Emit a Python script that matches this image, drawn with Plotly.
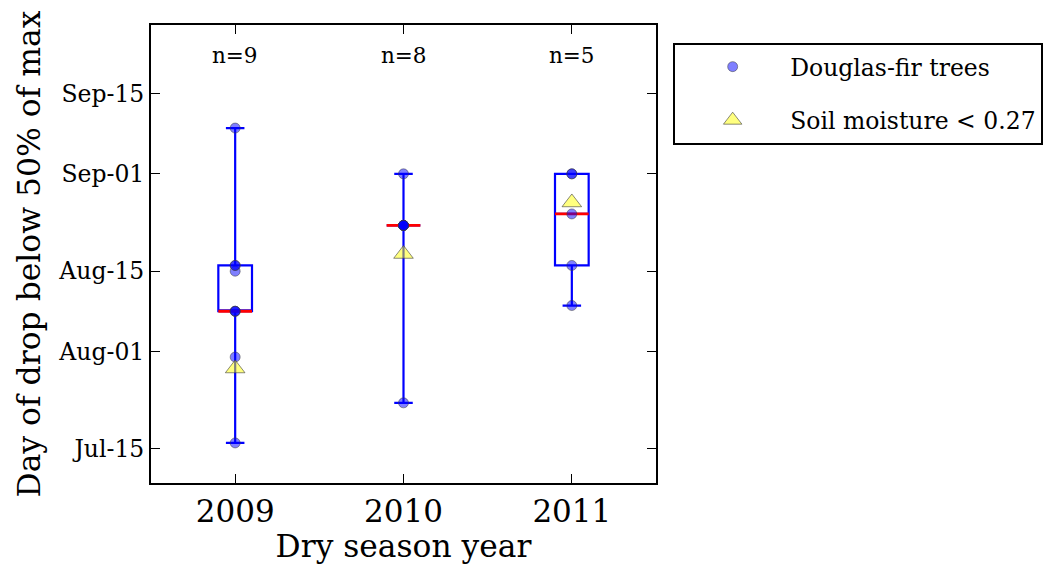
import numpy as np
import plotly.graph_objects as go

# Dry-season years and the day of year (DOY) each tree dropped below 50% of max
years = ["2009", "2010", "2011"]
doy_2009 = [197, 212, 220, 220, 220, 227, 228, 228, 252]
doy_2010 = [204, 235, 235, 235, 235, 235, 235, 244]
doy_2011 = [221, 228, 237, 244, 244]
# Day of year when soil moisture fell below 0.27
soil_doy = [210, 230, 239]

# Date ticks on the DOY axis
tick_doy = [196, 213, 227, 244, 258]
tick_text = ["Jul-15", "Aug-01", "Aug-15", "Sep-01", "Sep-15"]

groups = [doy_2009, doy_2010, doy_2011]
pos = np.arange(1, len(years) + 1)
box_w = 0.2
FONT = "DejaVu Serif"

q1 = [np.percentile(g, 25) for g in groups]
med = [np.percentile(g, 50) for g in groups]
q3 = [np.percentile(g, 75) for g in groups]
lo = [min(g) for g in groups]
hi = [max(g) for g in groups]

fig = go.Figure()

fig.add_trace(go.Box(
    x=pos, q1=q1, median=med, q3=q3, lowerfence=lo, upperfence=hi,
    width=box_w, whiskerwidth=0.55, boxpoints=False,
    line=dict(color="blue", width=2.2), fillcolor="rgba(0,0,0,0)",
    showlegend=False, hoverinfo="skip",
))

# red median bars
mx, my = [], []
for p, m in zip(pos, med):
    mx += [p - box_w / 2, p + box_w / 2, None]
    my += [m, m, None]
fig.add_trace(go.Scatter(x=mx, y=my, mode="lines",
                         line=dict(color="red", width=2.8),
                         showlegend=False, hoverinfo="skip"))

# individual trees
px_, py_ = [], []
for p, g in zip(pos, groups):
    px_ += [p] * len(g)
    py_ += g
fig.add_trace(go.Scatter(
    x=px_, y=py_, mode="markers", name="Douglas-fir trees",
    marker=dict(symbol="circle", size=10, color="rgba(0,0,255,0.5)",
                line=dict(color="rgba(60,60,60,0.5)", width=1)),
    legendgroup="a",
))

fig.add_trace(go.Scatter(
    x=pos, y=soil_doy, mode="markers", name="Soil moisture < 0.27",
    marker=dict(symbol="triangle-up", size=17, color="rgba(255,255,0,0.5)",
                line=dict(color="rgba(60,60,60,0.6)", width=1)),
    legendgroup="b",
))

# sample-size labels
for p, g in zip(pos, groups):
    fig.add_annotation(x=p, y=264.7, text=f"n={len(g)}", showarrow=False,
                       font=dict(family=FONT, size=21.5, color="black"))

axis_common = dict(showline=True, linecolor="black", linewidth=2, mirror="ticks",
                   ticks="inside", ticklen=9, tickwidth=1, tickcolor="black",
                   showgrid=False, zeroline=False)

fig.update_xaxes(range=[0.5, 3.5], tickvals=pos, ticktext=years,
                 tickfont=dict(family=FONT, size=31, color="black"),
                 title=dict(text="Dry season year", standoff=2,
                            font=dict(family=FONT, size=31.3, color="black")),
                 **axis_common)
fig.update_yaxes(range=[190, 270], tickvals=tick_doy, ticktext=tick_text,
                 tickfont=dict(family=FONT, size=23.5, color="black"),
                 title=dict(text="Day of drop below 50% of max", standoff=8,
                            font=dict(family=FONT, size=31.4, color="black")),
                 **axis_common)

fig.update_layout(
    width=1045, height=564,
    margin=dict(l=151, r=389, t=25, b=81, autoexpand=False),
    paper_bgcolor="white", plot_bgcolor="white",
    legend=dict(x=1.034, y=0.961, xanchor="left", yanchor="top",
                bordercolor="black", borderwidth=2, bgcolor="white",
                font=dict(family=FONT, size=23.5, color="black"),
                itemwidth=105, tracegroupgap=20),
)

fig.write_html("out.html")
